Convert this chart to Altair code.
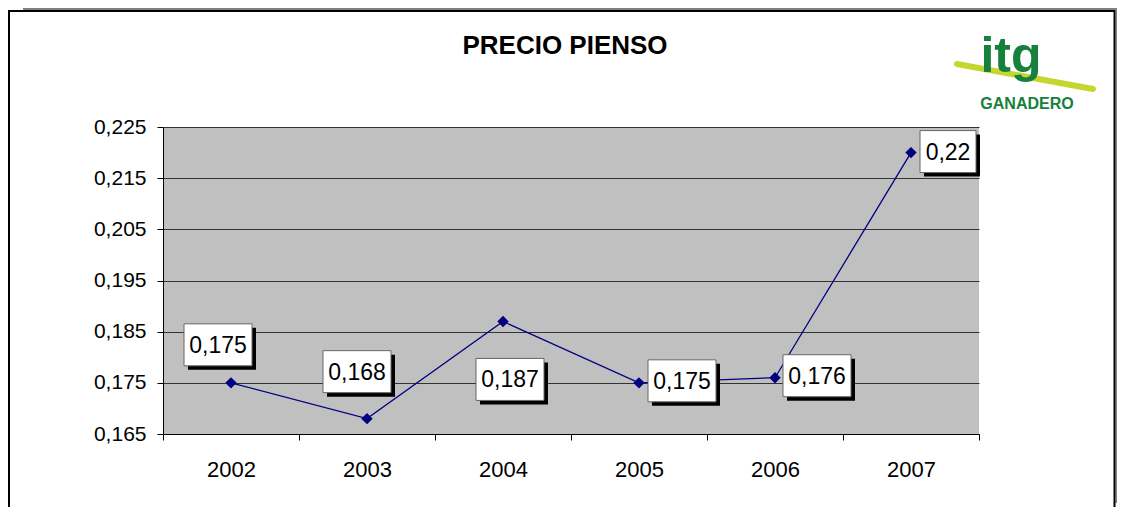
import altair as alt
import pandas as pd

# ---------------- data ----------------
YEARS = [2002, 2003, 2004, 2005, 2006, 2007]
PRICES = [0.175, 0.168, 0.187, 0.175, 0.176, 0.22]
LABELS = ["0,175", "0,168", "0,187", "0,175", "0,176", "0,22"]
Y_TICKS = [0.165, 0.175, 0.185, 0.195, 0.205, 0.215, 0.225]
X_BOUNDS = [2001.5, 2002.5, 2003.5, 2004.5, 2005.5, 2006.5, 2007.5]
TITLE = "PRECIO PIENSO"
LOGO_TEXT = "itg"
LOGO_SUB = "GANADERO"

# ---------------- layout (pixel offsets of label boxes) ----------------
LABEL_DX = [-13, -10, 7, 43, 42, 37]
LABEL_DY = [-38, -47, 58, -2, -2, -1]

W, H = 816, 307
FONT = "Liberation Sans"
NAVY = "#000080"

df = pd.DataFrame({"year": YEARS, "price": PRICES, "label": LABELS})
one = pd.DataFrame({"d": [0]})

x_scale = alt.Scale(domain=[2001.5, 2007.5], nice=False, zero=False)
y_scale = alt.Scale(domain=[0.165, 0.225], nice=False, zero=False)

x_axis = alt.Axis(
    values=X_BOUNDS,
    labelExpr="datum.value < 2007 ? format(datum.value + 0.5, 'd') : ''",
    labelOffset=68, tickSize=6, tickColor="#000", domainColor="#000",
    grid=False, labelFontSize=22, labelFont=FONT, labelColor="#000",
    labelPadding=19, labelOverlap=False, labelBound=False, labelFlush=False,
    title=None,
)
y_axis = alt.Axis(
    values=Y_TICKS,
    labelExpr="replace(format(datum.value, '.3f'), '.', ',')",
    grid=True, gridColor="#333333", gridWidth=1,
    tickSize=6, tickColor="#000", domainColor="#000",
    labelFontSize=21, labelFont=FONT, labelColor="#000", labelPadding=11,
    labelOverlap=False, labelBound=False, labelFlush=False, title=None,
)

X = alt.X("year:Q", scale=x_scale, axis=x_axis)
Y = alt.Y("price:Q", scale=y_scale, axis=y_axis)

# ---------------- frame decorations ----------------
top_band = alt.Chart(one).mark_rect(color="#808080").encode(
    x=alt.value(-140), x2=alt.value(954), y=alt.value(-119), y2=alt.value(-117))
right_band = alt.Chart(one).mark_rect(color="#808080").encode(
    x=alt.value(952.5), x2=alt.value(954), y=alt.value(-119), y2=alt.value(376))
frame = alt.Chart(one).mark_rect(fill="white", fillOpacity=0, stroke="#000", strokeWidth=2).encode(
    x=alt.value(-154), x2=alt.value(951.5), y=alt.value(-116), y2=alt.value(430))

title = alt.Chart(one).mark_text(
    font=FONT, fontSize=26, fontWeight="bold", color="#000",
    align="center", baseline="alphabetic").encode(
    x=alt.value(402), y=alt.value(-73.5), text=alt.value(TITLE))

swoosh = alt.Chart(one).mark_rule(color="#c5d62e", strokeWidth=6, strokeCap="round").encode(
    x=alt.value(794), x2=alt.value(930), y=alt.value(-63), y2=alt.value(-38))
logo = alt.Chart(one).mark_text(
    font=FONT, fontSize=50, fontWeight="bold", color="#17803d",
    align="center", baseline="alphabetic").encode(
    x=alt.value(848), y=alt.value(-55), text=alt.value(LOGO_TEXT))
logo_sub = alt.Chart(one).mark_text(
    font=FONT, fontSize=16, fontWeight="bold", color="#17803d",
    align="center", baseline="middle").encode(
    x=alt.value(864), y=alt.value(-23), text=alt.value(LOGO_SUB))

# ---------------- data layers ----------------
line = alt.Chart(df).mark_line(color=NAVY, strokeWidth=1.3).encode(x=X, y=Y)
points = alt.Chart(df).mark_point(
    shape="diamond", filled=True, size=130, color=NAVY, opacity=1).encode(x=X, y=Y)

label_layers = []
for i, yr in enumerate(YEARS):
    lab = LABELS[i]
    bw = round(12.2 * sum(c.isdigit() for c in lab) + 6.1 * lab.count(",") + 13)
    bh = 42
    dx, dy = LABEL_DX[i], LABEL_DY[i]
    base = alt.Chart(df).transform_filter(alt.datum.year == yr)
    shadow = base.mark_rect(width=bw, height=bh, color="#000",
                            xOffset=dx + 4, yOffset=dy + 4).encode(x=X, y=Y)
    box = base.mark_rect(width=bw, height=bh, fill="white", stroke="#666",
                         strokeWidth=1, xOffset=dx, yOffset=dy).encode(x=X, y=Y)
    txt = base.mark_text(font=FONT, fontSize=23, color="#000", align="center",
                         baseline="middle", xOffset=dx, yOffset=dy + 1).encode(
        x=X, y=Y, text="label:N")
    label_layers += [shadow, box, txt]

chart = alt.layer(
    top_band, right_band, frame, title, swoosh, logo, logo_sub,
    line, points, *label_layers
).properties(
    width=W, height=H,
    autosize=alt.AutoSizeParams(type="none"),
    padding={"left": 155, "top": 119, "right": 138, "bottom": 73},
).configure(background="white").configure_view(fill="#C0C0C0", stroke=None)

chart.save("out.html", embed_options={"renderer": "svg", "actions": False})
